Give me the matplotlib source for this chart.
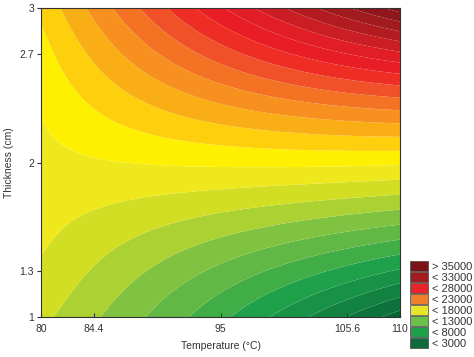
import numpy as np
import matplotlib
matplotlib.use('Agg')
import matplotlib.pyplot as plt
from matplotlib.colors import LinearSegmentedColormap
from matplotlib.patches import Patch

plt.rcParams['font.family'] = ['Liberation Sans', 'DejaVu Sans']

# values at the tick positions
temps = [80, 84.4, 95, 105.6, 110]
thick = [1, 1.3, 2, 2.7, 3]
z_h1 = [15500, 14000, 9000, 4500, 2000]
z_h13 = [16000, 14500, 12000, 9000, 7500]
z_h2 = [18000, 18000, 18000, 18000, 18000]
z_h27 = [18800, 20500, 27000, 30000, 31500]
z_h3 = [20000, 23000, 30000, 35000, 38500]

legend_labels = ['> 35000', '< 33000', '< 28000', '< 23000',
                 '< 18000', '< 13000', '< 8000', '< 3000']
legend_colors = ['#7a1416', '#a51c20', '#e8232a', '#f07f2d',
                 '#e6e52a', '#6cc04a', '#1ea04a', '#0e6b3c']

# fitted response surface (like the original software does)
Z = np.array([z_h1, z_h13, z_h2, z_h27, z_h3], dtype=float)
TT, HH = np.meshgrid(temps, thick)
deg = [2, 3]
V = np.polynomial.polynomial.polyvander2d(((TT - 95) / 15.0).ravel(), (HH - 2).ravel(), deg)
coef, *_ = np.linalg.lstsq(V, Z.ravel(), rcond=None)

tf = np.linspace(80, 110, 300)
hf = np.linspace(1, 3, 300)
TF, HF = np.meshgrid(tf, hf)
Vf = np.polynomial.polynomial.polyvander2d(((TF - 95) / 15.0).ravel(), (HF - 2).ravel(), deg)
ZF = (Vf @ coef).reshape(TF.shape)

# colour scale anchored like the picture
anchors = [(0, '#0a5530'), (3000, '#0c6a3a'), (8000, '#1ca04b'),
           (13000, '#86c540'), (15500, '#cfdd25'), (17250, '#eee81c'),
           (18750, '#fff200'), (20250, '#fdcf0c'), (23000, '#f7941d'),
           (26000, '#f15a29'), (28500, '#ed1c24'), (31000, '#e01e26'),
           (34500, '#a81b20'), (40000, '#6e1214')]
vmax = 40000
cmap = LinearSegmentedColormap.from_list('resp', [(v / vmax, c) for v, c in anchors])

fig = plt.figure(figsize=(4.74, 3.57), dpi=100)
ax = fig.add_axes([0.0865, 0.112, 0.7574, 0.8656])
levels = np.arange(-1500, 42001, 1500)
ax.contourf(TF, HF, ZF, levels=levels, cmap=cmap, vmin=0, vmax=vmax, antialiased=True)

ax.set_xlim(80, 110)
ax.set_ylim(1, 3)
ax.set_xticks(temps)
ax.set_xticklabels(['80', '84.4', '95', '105.6', '110'])
ax.set_yticks(thick)
ax.set_yticklabels(['1', '1.3', '2', '2.7', '3'])
ax.tick_params(axis='x', direction='in', length=3, labelsize=7.5, pad=5, colors='#333333')
ax.tick_params(axis='y', direction='out', length=3, labelsize=7.5, pad=2, colors='#333333')
for s in ax.spines.values():
    s.set_color('#333333')
    s.set_linewidth(0.8)
ax.set_xlabel('Temperature (°C)', fontsize=7.5, color='#333333', labelpad=5)
ax.set_ylabel('Thickness (cm)', fontsize=7.5, color='#333333', labelpad=4)

handles = [Patch(facecolor=c, edgecolor='#444444', linewidth=0.5) for c in legend_colors]
fig.legend(handles, legend_labels, loc='upper left', bbox_to_anchor=(0.866, 0.268),
           frameon=False, fontsize=8, handlelength=1.55, handleheight=0.9,
           handletextpad=0.35, labelspacing=0.05, borderaxespad=0, borderpad=0,
           labelcolor='#333333')

fig.savefig('out.png', dpi=100)
